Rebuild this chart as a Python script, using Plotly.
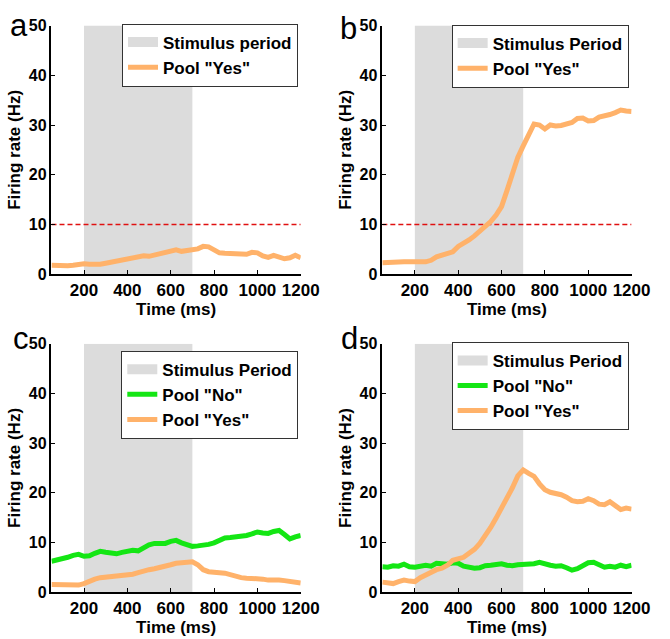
import plotly.graph_objects as go

# ---------------- data ----------------
time_ms = list(range(50, 1201, 25))

stimulus_period = [200, 700]
y_limits = [0, 50]
threshold_hz = 10

a_yes = [1.8, 1.7, 1.6, 1.7, 1.8, 2.0, 2.1, 2.0, 1.9, 2.0, 2.2, 2.4, 2.6, 2.8, 3.0, 3.3,
         3.5, 3.7, 3.6, 3.9, 4.1, 4.4, 4.8, 4.9, 4.6, 4.7, 4.9, 5.1, 5.6, 5.5, 4.9, 4.3,
         4.2, 4.1, 4.0, 3.9, 4.0, 4.4, 4.3, 3.7, 3.4, 3.8, 3.5, 3.1, 3.3, 3.8, 3.3]

b_yes = [2.3, 2.4, 2.5, 2.4, 2.5, 2.5, 2.6, 2.5, 2.5, 2.8, 3.5, 3.9, 4.1, 4.5, 5.6, 6.2,
         6.9, 7.7, 8.6, 9.6, 10.6, 11.9, 13.6, 16.8, 20.5, 23.5, 25.8, 28.2, 30.2, 30.0, 29.2, 30.0,
         29.8, 29.9, 30.1, 30.5, 31.3, 31.4, 30.8, 30.9, 31.6, 31.8, 32.1, 32.5, 33.0, 32.8, 32.7]

c_no = [6.2, 6.4, 6.7, 7.0, 7.4, 7.6, 7.2, 7.3, 7.8, 8.2, 8.0, 7.8, 7.7, 8.0, 8.3, 8.4,
        8.3, 9.0, 9.5, 9.8, 9.9, 9.8, 10.2, 10.4, 9.9, 9.5, 9.2, 9.3, 9.4, 9.6, 9.9, 10.5,
        10.9, 11.0, 11.1, 11.2, 11.4, 11.7, 12.1, 11.9, 11.8, 12.2, 12.4, 11.6, 10.7, 11.1, 11.4]

c_yes = [1.5, 1.5, 1.5, 1.4, 1.3, 1.4, 1.7, 2.2, 2.6, 2.9, 3.0, 3.2, 3.3, 3.4, 3.5, 3.6,
         3.9, 4.3, 4.5, 4.7, 4.9, 5.1, 5.5, 5.8, 5.9, 6.0, 6.1, 5.5, 4.5, 4.1, 3.9, 3.9,
         3.8, 3.5, 3.1, 2.9, 2.8, 2.8, 2.7, 2.6, 2.4, 2.5, 2.4, 2.3, 2.1, 1.9, 1.8]

d_no = [5.1, 5.0, 5.3, 5.2, 5.6, 5.1, 5.0, 5.3, 5.4, 5.2, 5.8, 5.7, 5.6, 5.9, 5.8, 5.2,
        5.0, 4.8, 4.9, 5.3, 5.4, 5.5, 5.7, 5.4, 5.3, 5.5, 5.6, 5.5, 5.7, 6.0, 5.6, 5.4,
        5.2, 5.3, 4.9, 4.4, 4.7, 5.4, 5.9, 6.0, 5.6, 5.0, 5.2, 5.0, 5.4, 5.1, 5.4]

d_yes = [2.0, 1.9, 1.7, 2.1, 2.4, 2.2, 2.1, 2.9, 3.5, 4.1, 4.5, 4.8, 5.4, 6.4, 6.6, 7.0,
         7.8, 8.6, 9.8, 11.2, 13.0, 14.9, 17.0, 18.6, 21.0, 23.4, 24.6, 23.9, 23.3, 21.8, 20.6, 20.1,
         19.9, 19.6, 19.1, 18.4, 18.2, 18.3, 18.8, 18.4, 17.7, 17.6, 18.2, 17.5, 16.6, 16.9, 16.7]

x_ticks = [200, 400, 600, 800, 1000, 1200]
y_ticks = [0, 10, 20, 30, 40, 50]

panels = [
    # letter, stimulus label, no-pool, yes-pool, threshold?
    ("a", "Stimulus period", None, a_yes, True),
    ("b", "Stimulus Period", None, b_yes, True),
    ("c", "Stimulus Period", c_no, c_yes, False),
    ("d", "Stimulus Period", d_no, d_yes, False),
]

# ---------------- style ----------------
W, H = 670, 639
BAND = "#dcdcdc"
ORANGE = "#ffb26a"
GREEN = "#14e614"
RED = "#e01010"
FONT = "Liberation Sans, Arial, sans-serif"
FS = 17
TICK_FS = 16

x_domains = [[53 / W, 309.5 / W], [393.5 / W, 650 / W]] * 2
y_domains = [[(H - 273.5) / H, (H - 18) / H]] * 2 + [[(H - 600) / H, (H - 345) / H]] * 2
legend_pos = [(306.7, 16), (647, 17), (307, 352), (647, 343)]
letter_pos = [(19.5, 18), (359, 21), (22, 340), (360, 340)]

fig = go.Figure()
layout = dict(
    width=W, height=H,
    margin=dict(l=0, r=0, t=0, b=0),
    paper_bgcolor="white", plot_bgcolor="white",
    font=dict(family=FONT, size=FS, color="black", weight="bold"),
    annotations=[],
)

for i, (letter, stim_label, no_vals, yes_vals, show_thr) in enumerate(panels):
    n = i + 1
    xa = "x" if n == 1 else f"x{n}"
    ya = "y" if n == 1 else f"y{n}"
    leg = "legend" if n == 1 else f"legend{n}"

    s0, s1 = stimulus_period
    # shaded stimulus period (legend entry drawn by a legend-only proxy below)
    fig.add_trace(go.Scatter(
        x=[s0, s1, s1, s0, s0], y=[y_limits[0], y_limits[0], y_limits[1], y_limits[1], y_limits[0]],
        fill="toself", fillcolor=BAND, mode="lines", line=dict(width=0, color=BAND),
        showlegend=False, xaxis=xa, yaxis=ya, hoverinfo="skip"))
    fig.add_trace(go.Scatter(
        x=[None], y=[None], mode="lines", line=dict(width=18, color=BAND),
        name=stim_label, legend=leg, xaxis=xa, yaxis=ya))
    if show_thr:
        fig.add_trace(go.Scatter(
            x=[time_ms[0], time_ms[-1]], y=[threshold_hz, threshold_hz], mode="lines",
            line=dict(color=RED, width=1.5, dash="5px,3px"), showlegend=False,
            xaxis=xa, yaxis=ya))
    if no_vals is not None:
        fig.add_trace(go.Scatter(
            x=time_ms, y=no_vals, mode="lines", line=dict(color=GREEN, width=5),
            name='Pool "No"', legend=leg, xaxis=xa, yaxis=ya))
    fig.add_trace(go.Scatter(
        x=time_ms, y=yes_vals, mode="lines", line=dict(color=ORANGE, width=5),
        name='Pool "Yes"', legend=leg, xaxis=xa, yaxis=ya))

    axis_common = dict(
        showline=True, linecolor="black", linewidth=1.5, mirror=False,
        ticks="inside", ticklen=4, tickwidth=1.2, tickcolor="black",
        showgrid=False, zeroline=False,
        tickfont=dict(family=FONT, size=TICK_FS, color="black", weight="bold"),
    )
    xkey = "xaxis" if n == 1 else f"xaxis{n}"
    ykey = "yaxis" if n == 1 else f"yaxis{n}"
    layout[xkey] = dict(
        axis_common, domain=x_domains[i], anchor=ya, range=[time_ms[0], time_ms[-1]],
        tickvals=x_ticks, ticktext=[str(t) for t in x_ticks],
        tickfont=dict(family=FONT, size=FS, color="black", weight="bold"),
        title=dict(text="Time (ms)", standoff=0,
                   font=dict(family=FONT, size=FS, color="black", weight="bold")),
    )
    layout[ykey] = dict(
        axis_common, domain=y_domains[i], anchor=xa, range=y_limits,
        tickvals=y_ticks, ticktext=[str(t) for t in y_ticks],
        title=dict(text="Firing rate (Hz)", standoff=4,
                   font=dict(family=FONT, size=FS, color="black", weight="bold")),
    )
    lx, ly = legend_pos[i]
    layout[leg] = dict(
        x=lx / W, y=(H - ly) / H, xanchor="right", yanchor="top",
        bgcolor="white", bordercolor="#333333", borderwidth=1,
        font=dict(family=FONT, size=FS, color="black", weight="bold"),
        tracegroupgap=0, itemwidth=30,
    )
    px_, py_ = letter_pos[i]
    layout["annotations"].append(dict(
        text=letter, x=px_ / W, y=(H - py_) / H, xref="paper", yref="paper",
        xanchor="center", yanchor="middle", showarrow=False,
        font=dict(family=FONT, size=31, color="black", weight="normal")))

fig.update_layout(**layout)
fig.write_html("out.html")
